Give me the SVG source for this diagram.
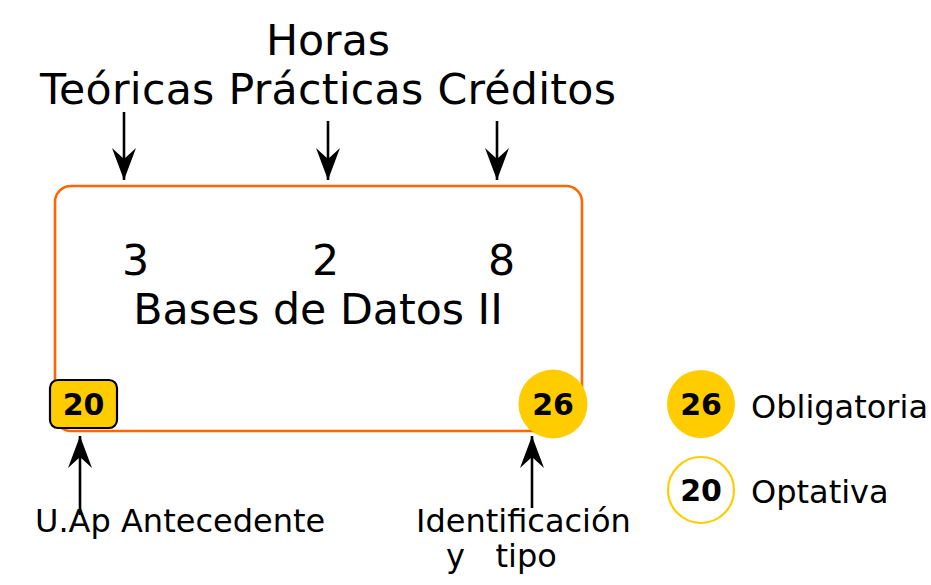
<svg xmlns="http://www.w3.org/2000/svg" width="931" height="585" viewBox="0 0 931 585">
<style>
text{font-family:"DejaVu Sans","Liberation Sans",sans-serif;fill:#000}
.big{font-size:42.7px}
.mid{font-size:32px}
.num{font-size:30px;font-weight:bold;text-anchor:middle}
.conn line{stroke:#000;stroke-width:2.6;marker-end:url(#ah)}
</style>
<defs>
<marker id="ah" viewBox="-34 -13 36 26" refX="0" refY="0" markerUnits="userSpaceOnUse" markerWidth="36" markerHeight="26" orient="auto">
<path d="M0,0 L-32,-12 L-21,0 L-32,12 z" fill="#000"/>
</marker>
</defs>
<rect width="931" height="585" fill="#fff"/>
<g id="header">
<text class="big" x="328" y="55" text-anchor="middle">Horas</text>
<text class="big" x="40" y="104" textLength="576" lengthAdjust="spacing">Teóricas Prácticas Créditos</text>
</g>
<g id="course">
<rect x="55" y="186" width="527" height="245" rx="16" fill="none" stroke="#ff6600" stroke-width="2.6"/>
<text class="big" x="122" y="275">3</text>
<text class="big" x="312" y="275">2</text>
<text class="big" x="488" y="275">8</text>
<text class="big" x="318" y="324" text-anchor="middle">Bases de Datos II</text>
</g>
<g id="antecedente">
<rect x="50" y="380" width="67" height="48" rx="8" fill="#ffcc00" stroke="#000" stroke-width="2.2"/>
<text class="num" x="83.5" y="415">20</text>
</g>
<g id="identificacion">
<circle cx="553" cy="404" r="34.5" fill="#ffcc00"/>
<text class="num" x="553" y="415">26</text>
</g>
<g id="legend-obligatoria">
<circle cx="701" cy="404" r="34" fill="#ffcc00"/>
<text class="num" x="701" y="415">26</text>
<text class="mid" x="751" y="418">Obligatoria</text>
</g>
<g id="legend-optativa">
<circle cx="701" cy="490" r="33" fill="#fff" stroke="#ffcc00" stroke-width="2.2"/>
<text class="num" x="701" y="501">20</text>
<text class="mid" x="751" y="503">Optativa</text>
</g>
<g id="labels">
<text class="mid" x="35" y="532">U.Ap Antecedente</text>
<text class="mid" x="416" y="532">Identificación</text>
<text class="mid" x="446" y="567" style="white-space:pre" xml:space="preserve">y   tipo</text>
</g>
<g id="connectors" class="conn">
<line x1="124" y1="112" x2="124" y2="180"/>
<line x1="328" y1="121" x2="328" y2="180"/>
<line x1="497" y1="121" x2="497" y2="180"/>
<line x1="80" y1="515" x2="80" y2="436"/>
<line x1="532" y1="508" x2="532" y2="436"/>
</g>
</svg>
